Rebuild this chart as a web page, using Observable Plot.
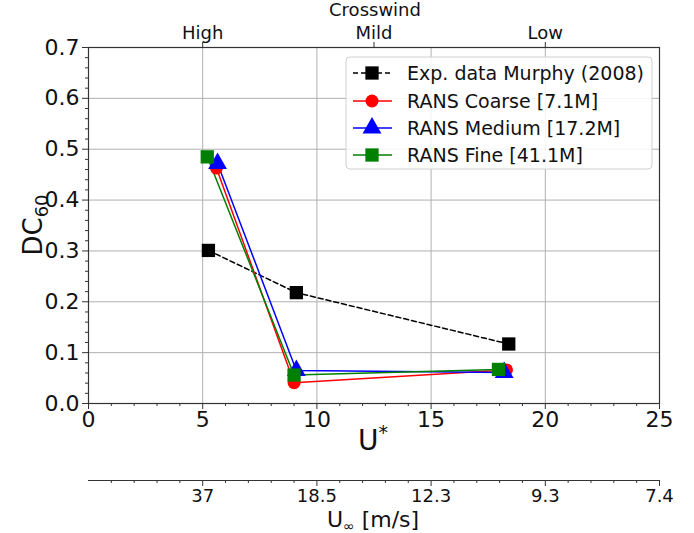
<!DOCTYPE html>
<html><head><meta charset="utf-8">
<script src="https://cdn.jsdelivr.net/npm/d3@7"></script>
<script src="https://cdn.jsdelivr.net/npm/@observablehq/plot@0.6"></script>
<style>
body{margin:0;background:#fff;}
#chart{width:694px;height:533px;}
svg{font-family:"DejaVu Sans",sans-serif;}
</style></head><body><div id="chart"></div>
<script>
// Data
const expU = [5.25, 9.1, 18.4];
const expDC = [0.301, 0.218, 0.117];
const coarseU = [5.6, 9.0, 18.3];
const coarseDC = [0.463, 0.041, 0.066];
const mediumU = [5.65, 9.1, 18.2];
const mediumDC = [0.472, 0.065, 0.061];
const fineU = [5.2, 9.0, 17.95];
const fineDC = [0.485, 0.056, 0.067];
const seriesNames = ["Exp. data Murphy (2008)", "RANS Coarse [7.1M]", "RANS Medium [17.2M]", "RANS Fine [41.1M]"];

const xTicks = [0, 5, 10, 15, 20, 25];
const yTicks = [0, 0.1, 0.2, 0.3, 0.4, 0.5, 0.6, 0.7];
const crosswindPos = [5, 12.5, 20];
const crosswindLabels = ["High", "Mild", "Low"];
const uInfPos = [5, 10, 15, 20, 25];
const uInfLabels = ["37", "18.5", "12.3", "9.3", "7.4"];

const styles = [
  {color: "black", symbol: "square", r: 7.5, dash: "5,3"},
  {color: "red", symbol: "circle", r: 6.5, dash: null},
  {color: "blue", symbol: "triangle", r: 7, dash: null},
  {color: "green", symbol: "square", r: 7.5, dash: null}
];
const us = [expU, coarseU, mediumU, fineU];
const dcs = [expDC, coarseDC, mediumDC, fineDC];
const seriesData = seriesNames.map((name, k) => us[k].map((u, i) => ({name, u, dc: dcs[k][i]})));

const minorX = d3.range(0, 26, 1).filter(d => d % 5 !== 0);
const minorY = d3.range(0, 36).map(d => d * 0.02).filter((d, i) => i % 5 !== 0);
const FS = 22;
const secDy = 77;

const marks = [
  Plot.gridX(xTicks.slice(1, -1), {stroke: "#b0b0b0", strokeOpacity: 1, strokeWidth: 1}),
  Plot.gridY(yTicks.slice(1, -1), {stroke: "#b0b0b0", strokeOpacity: 1, strokeWidth: 1}),
  Plot.axisY({ticks: yTicks, tickFormat: d => d.toFixed(1), fontSize: FS, tickSize: 6, tickPadding: 3, label: null, stroke: "#333"}),
  Plot.axisY({ticks: minorY, tickFormat: () => "", tickSize: 3, label: null, stroke: "#333"}),
  Plot.axisX({anchor: "bottom", ticks: xTicks, tickFormat: d => String(d), fontSize: FS, tickSize: 6, tickPadding: 2, label: null, stroke: "#333"}),
  Plot.axisX({anchor: "bottom", ticks: minorX, tickFormat: () => "", tickSize: 3, label: null, stroke: "#333"}),
  Plot.axisX({anchor: "top", ticks: crosswindPos, tickFormat: d => crosswindLabels[crosswindPos.indexOf(d)], fontSize: 18, tickSize: 6, tickPadding: 3, label: null, stroke: "#333"}),
  Plot.axisX({anchor: "bottom", ticks: uInfPos, tickFormat: d => uInfLabels[uInfPos.indexOf(d)], fontSize: 18, tickSize: 6, tickPadding: 3, label: null, dy: secDy, stroke: "#333"}),
  Plot.axisX({anchor: "bottom", ticks: minorX, tickFormat: () => "", tickSize: 3, label: null, dy: secDy, stroke: "#333"}),
  Plot.ruleY([0], {dy: secDy, stroke: "#333", strokeWidth: 1.2})
];
seriesData.forEach((rows, k) => {
  const s = styles[k];
  marks.push(Plot.line(rows, {x: "u", y: "dc", stroke: s.color, strokeWidth: 1.5, strokeDasharray: s.dash || undefined}));
});
seriesData.forEach((rows, k) => {
  const s = styles[k];
  marks.push(Plot.dot(rows, {x: "u", y: "dc", symbol: () => s.symbol, fill: s.color, stroke: "none", r: s.r}));
});
marks.push(Plot.frame({stroke: "#333", strokeWidth: 1.2}));

const plot = Plot.plot({
  width: 694, height: 533,
  marginLeft: 88, marginRight: 35, marginTop: 47, marginBottom: 130,
  x: {domain: [0, 25]},
  y: {domain: [0, 0.7]},
  symbol: {type: "identity"},
  style: {fontFamily: "DejaVu Sans, sans-serif", color: "#111", background: "white"},
  marks
});
document.getElementById("chart").appendChild(plot);

const svg = d3.select(plot);
// Axis labels
const ylab = svg.append("text").attr("transform", "translate(42,225) rotate(-90)").attr("text-anchor", "middle").attr("font-size", 26).attr("fill", "#111");
ylab.append("tspan").text("DC");
ylab.append("tspan").attr("font-size", 18).attr("dy", 6).text("60");
const xlab = svg.append("text").attr("x", 373).attr("y", 450).attr("text-anchor", "middle").attr("font-size", 28).attr("fill", "#111");
xlab.append("tspan").text("U");
xlab.append("tspan").attr("font-size", 19).attr("dy", -11).text("*");
const ulab = svg.append("text").attr("x", 373).attr("y", 527).attr("text-anchor", "middle").attr("font-size", 22).attr("fill", "#111");
ulab.append("tspan").text("U");
ulab.append("tspan").attr("font-size", 14).attr("dy", 4).text("∞");
ulab.append("tspan").attr("dy", -4).text(" [m/s]");
svg.append("text").attr("x", 375).attr("y", 16).attr("text-anchor", "middle").attr("font-size", 18).attr("fill", "#111").text("Crosswind");

// Legend
const lg = svg.append("g");
lg.append("rect").attr("x", 346).attr("y", 57).attr("width", 306).attr("height", 112).attr("rx", 4)
  .attr("fill", "white").attr("fill-opacity", 0.85).attr("stroke", "#d0d0d0");
const rowsY = [73, 101, 128, 155];
seriesNames.forEach((name, k) => {
  const s = styles[k], y = rowsY[k];
  lg.append("line").attr("x1", 353).attr("x2", 392).attr("y1", y).attr("y2", y)
    .attr("stroke", s.color).attr("stroke-width", 1.5).attr("stroke-dasharray", s.dash);
  const sym = s.symbol === "square" ? d3.symbolSquare : s.symbol === "circle" ? d3.symbolCircle : d3.symbolTriangle;
  lg.append("path").attr("d", d3.symbol(sym, Math.PI * s.r * s.r)()).attr("transform", `translate(372,${y})`).attr("fill", s.color);
  lg.append("text").attr("x", 407).attr("y", y).attr("dy", "0.35em").attr("text-anchor", "start").attr("font-size", 19).attr("fill", "#111").text(name);
});
</script>
</body></html>
